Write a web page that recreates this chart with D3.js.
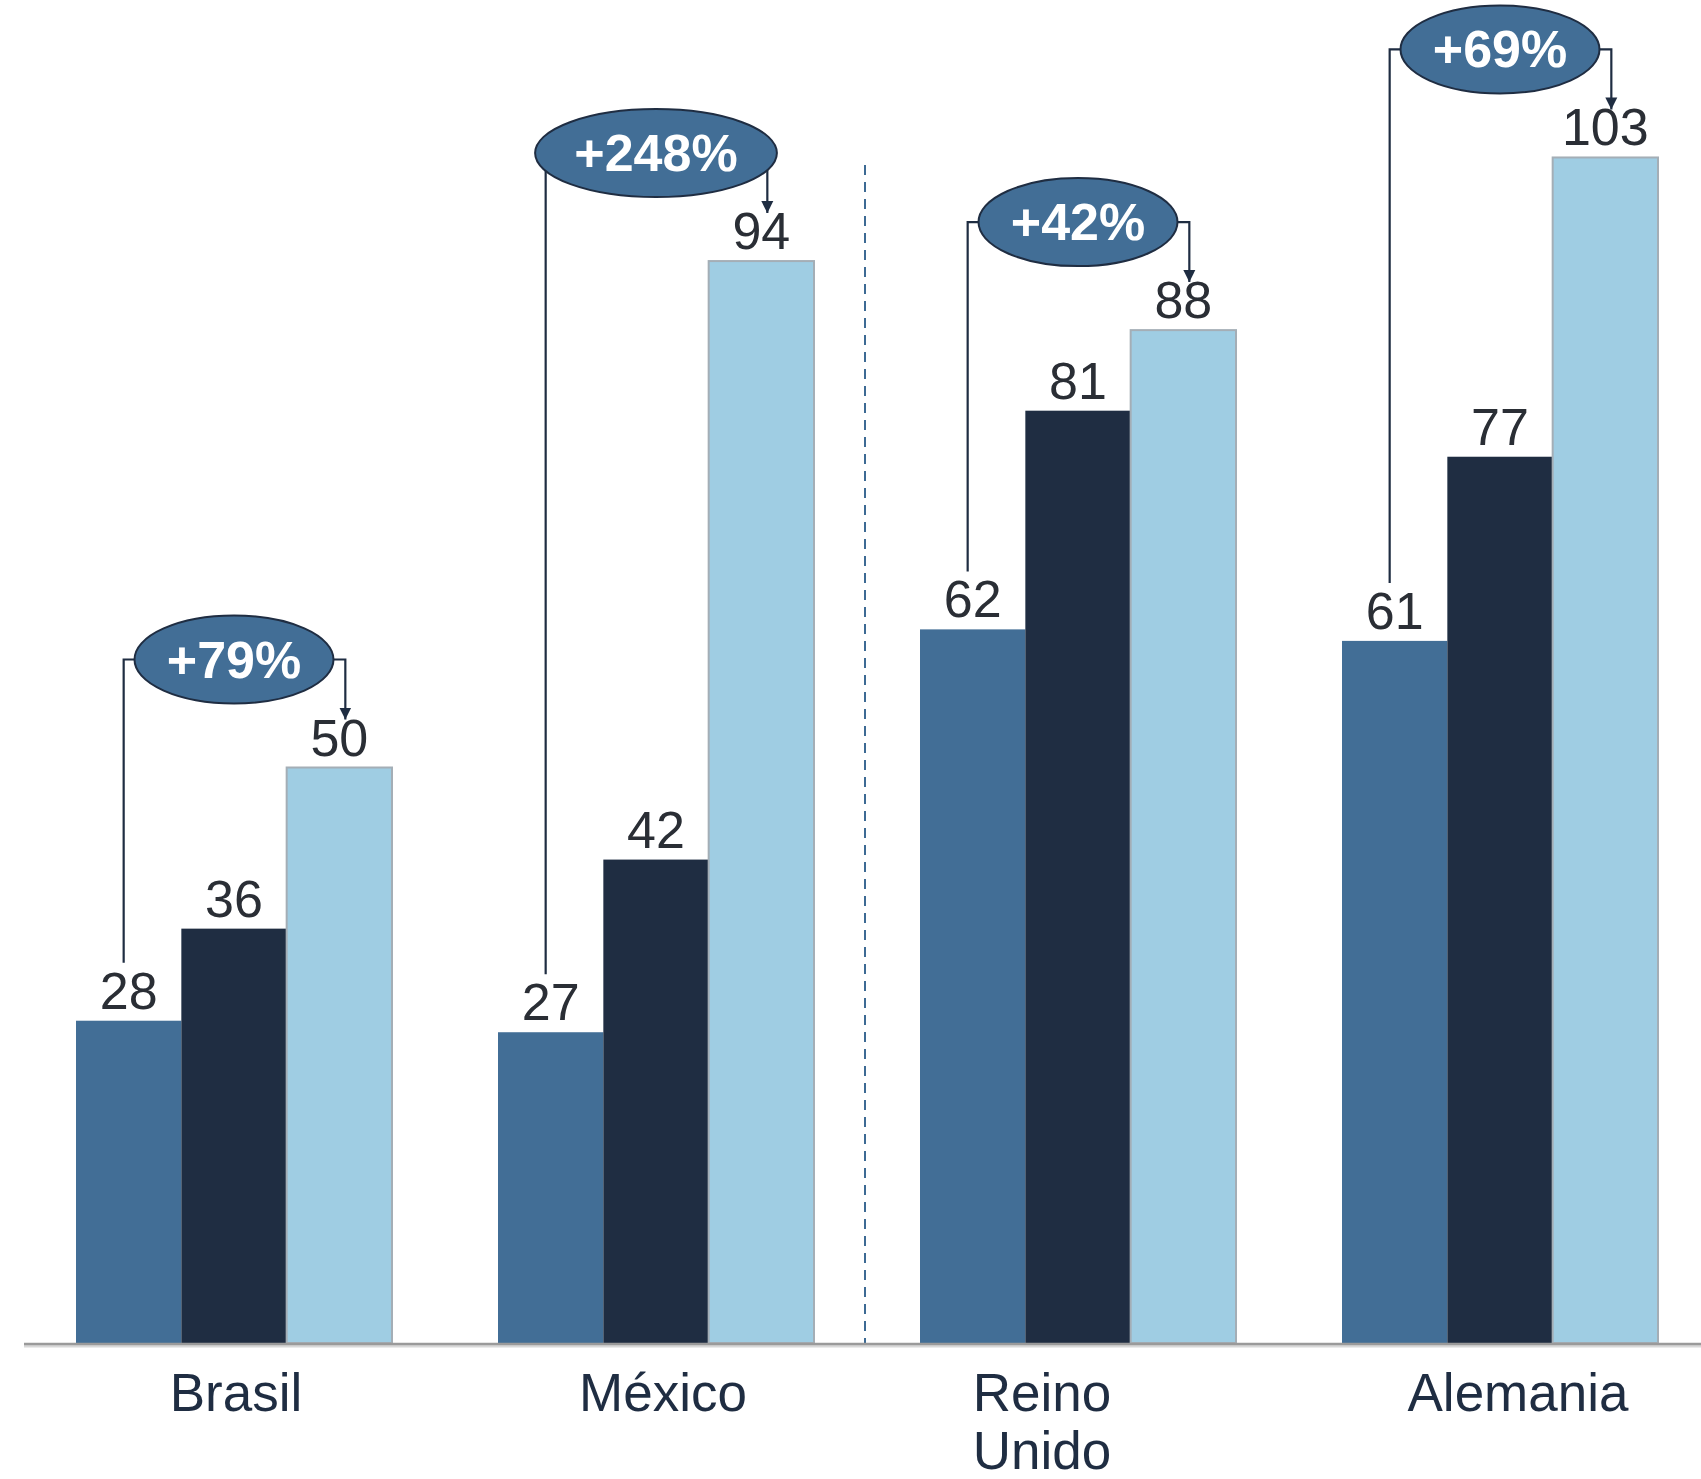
<!DOCTYPE html>
<html><head><meta charset="utf-8">
<script src="https://cdn.jsdelivr.net/npm/d3@7"></script>
<style>html,body{margin:0;padding:0;background:#fff;}svg{display:block;}</style>
</head><body>
<svg id="c" width="1701" height="1479"></svg>
<script>
const categories = ["Brasil", "México", "Reino Unido", "Alemania"];
const series = ["s1", "s2", "s3"];
const values1 = [28, 27, 62, 61];
const values2 = [36, 42, 81, 77];
const values3 = [50, 94, 88, 103];
const growthLabels = ["+79%", "+248%", "+42%", "+69%"];
const seriesColors = ["#426E96", "#1F2D42", "#9FCDE3"];

const W = 1701, H = 1479, baseY = 1343;
// small horizontal nudges of the category labels, as in the reference layout
const labelNudge = {"Brasil": 2, "México": 7, "Reino Unido": -36, "Alemania": 18};
const svg = d3.select("#c");
const data = categories.map((c, i) => ({cat: c, vals: [values1[i], values2[i], values3[i]], growth: growthLabels[i]}));

const x = d3.scaleBand().domain(categories).range([23, 1711]).paddingInner(0.2512).paddingOuter(0.1256);
const xs = d3.scaleBand().domain(series).range([0, x.bandwidth()]).padding(0);
const y = d3.scaleLinear().domain([0, 100]).range([baseY, baseY - 1151]);

const defs = svg.append("defs");
defs.append("marker").attr("id", "arr").attr("viewBox", "0 0 10 10").attr("refX", 10).attr("refY", 5)
  .attr("markerWidth", 12).attr("markerHeight", 13).attr("markerUnits", "userSpaceOnUse").attr("orient", "auto")
  .append("path").attr("d", "M0,0 L10,5 L0,10 Z").attr("fill", "#1F2D42");

// dashed separator between México and Reino Unido
const sepX = (x("México") + x.bandwidth() + x("Reino Unido")) / 2 - 2;
svg.append("line").attr("x1", sepX).attr("x2", sepX).attr("y1", 165).attr("y2", baseY)
  .attr("stroke", "#3D6A94").attr("stroke-width", 2).attr("stroke-dasharray", "10,7");

const groups = svg.selectAll("g.grp").data(data).join("g").attr("class", "grp")
  .attr("transform", d => `translate(${x(d.cat)},0)`);

groups.selectAll("rect").data(d => d.vals.map((v, j) => ({v, s: series[j], j}))).join("rect")
  .attr("x", d => xs(d.s)).attr("width", xs.bandwidth())
  .attr("y", d => y(d.v)).attr("height", d => baseY - y(d.v))
  .attr("fill", d => seriesColors[d.j])
  .attr("stroke", d => d.j === 2 ? "#A4AEB6" : "none").attr("stroke-width", 2);

groups.selectAll("text.val").data(d => d.vals.map((v, j) => ({v, s: series[j]}))).join("text").attr("class", "val")
  .attr("x", d => xs(d.s) + xs.bandwidth() / 2).attr("y", d => y(d.v) - 12)
  .attr("text-anchor", "middle").attr("font-family", "Liberation Sans, Arial, sans-serif")
  .attr("font-size", 52).attr("fill", "#2A2E35").text(d => d.v);

// axis baseline
svg.append("line").attr("x1", 24).attr("x2", W).attr("y1", baseY + 3).attr("y2", baseY + 3)
  .attr("stroke", "#D8D8D8").attr("stroke-width", 3);
svg.append("line").attr("x1", 24).attr("x2", W).attr("y1", baseY + 1).attr("y2", baseY + 1)
  .attr("stroke", "#9A9A9A").attr("stroke-width", 2.5);

// growth annotations
groups.each(function(d) {
  const g = d3.select(this);
  const x1 = xs("s1") + xs.bandwidth() / 2 - 5;
  const x3 = xs("s3") + xs.bandwidth() / 2 + 6;
  const cx = x.bandwidth() / 2;
  const cy = y(d.vals[2]) - 108;
  const yStart = y(d.vals[0]) - 58;
  const yEnd = y(d.vals[2]) - 48;
  g.append("path").attr("d", `M${x1},${yStart} V${cy} H${x3} V${yEnd}`)
    .attr("fill", "none").attr("stroke", "#1F2D42").attr("stroke-width", 2.2).attr("marker-end", "url(#arr)");
  const t = g.append("text").attr("x", cx).attr("y", cy + 18).attr("text-anchor", "middle")
    .attr("font-family", "Liberation Sans, Arial, sans-serif").attr("font-weight", "bold")
    .attr("font-size", 52).attr("fill", "#fff").text(d.growth);
  const tw = t.node().getComputedTextLength();
  g.append("ellipse").attr("cx", cx).attr("cy", cy).attr("rx", tw * 0.74).attr("ry", 44)
    .attr("fill", "#426E96").attr("stroke", "#1F2D42").attr("stroke-width", 2);
  t.raise();
});

// category labels
const labelSel = svg.selectAll("text.cat").data(categories).join("text").attr("class", "cat")
  .attr("x", d => x(d) + x.bandwidth() / 2 + labelNudge[d]).attr("y", 1411)
  .attr("text-anchor", "middle").attr("font-family", "Liberation Sans, Arial, sans-serif")
  .attr("font-size", 53).attr("fill", "#1F2D42");
labelSel.each(function(d) {
  const words = d === "Reino Unido" ? ["Reino", "Unido"] : [d];
  const t = d3.select(this);
  words.forEach((w, i) => t.append("tspan").attr("x", t.attr("x")).attr("dy", i === 0 ? 0 : 58).text(w));
});
</script>
</body></html>
